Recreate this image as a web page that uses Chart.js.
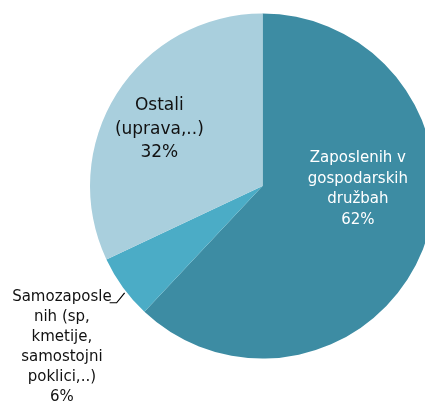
<!DOCTYPE html>
<html>
<head>
<meta charset="utf-8">
<script src="https://cdn.jsdelivr.net/npm/chart.js@4"></script>
<style>
html,body{margin:0;padding:0;background:#fff;overflow:hidden;width:425px;height:405px;}
#wrap{position:absolute;left:0;top:0;width:440px;height:405px;}
</style>
</head>
<body>
<div id="wrap"><canvas id="c" width="440" height="405"></canvas></div>
<script>
const categories = ['Zaposlenih v gospodarskih družbah', 'Samozaposlenih (sp, kmetije, samostojni poklici,..)', 'Ostali (uprava,..)'];
const values = [62, 6, 32];
const percentLabels = ['62%', '6%', '32%'];
const labelLines = [
  ['Zaposlenih v', 'gospodarskih', 'družbah'],
  ['Samozaposle', 'nih (sp,', 'kmetije,', 'samostojni', 'poklici,..)'],
  ['Ostali', '(uprava,..)']
];
const colors = ['#3D8CA3', '#4BACC6', '#A9CFDD'];

// label placement relative to pie center, in units of radius
const labelStyle = [
  {dx: 0.553, dy: -0.16, lh: 20.5, size: 15, color: '#ffffff'},
  {dx: -1.163, dy: 0.645, lh: 20, size: 15, color: '#111111'},
  {dx: -0.598, dy: -0.465, lh: 23.5, size: 17, color: '#111111'}
];

const labelPlugin = {
  id: 'pieLabels',
  afterDatasetsDraw(chart) {
    const ctx = chart.ctx;
    const meta = chart.getDatasetMeta(0);
    const arc0 = meta.data[0];
    const cx = arc0.x, cy = arc0.y, r = arc0.outerRadius;
    ctx.save();
    ctx.textAlign = 'center';
    ctx.textBaseline = 'middle';
    labelLines.forEach((lines, i) => {
      const st = labelStyle[i];
      const all = lines.concat([percentLabels[i]]);
      const x = cx + st.dx * r;
      const y0 = cy + st.dy * r;
      ctx.fillStyle = st.color;
      ctx.font = st.size + 'px "DejaVu Sans", sans-serif';
      all.forEach((t, k) => ctx.fillText(t, x, y0 + k * st.lh));
      if (i === 1) {
        // leader line from label to its slice
        const w = ctx.measureText(lines[0]).width;
        const lx = x + w / 2 - 2;
        const ly = y0 + 5.5;
        ctx.strokeStyle = '#000';
        ctx.lineWidth = 1.2;
        ctx.beginPath();
        ctx.moveTo(lx, ly);
        ctx.lineTo(lx + 7, ly);
        ctx.lineTo(lx + 15, ly - 10);
        ctx.stroke();
      }
    });
    ctx.restore();
  }
};

new Chart(document.getElementById('c'), {
  type: 'pie',
  data: {
    labels: categories,
    datasets: [{
      data: values,
      backgroundColor: colors,
      borderWidth: 0
    }]
  },
  options: {
    responsive: false,
    animation: false,
    layout: {padding: {left: 90, top: 13.5, right: 5, bottom: 46.5}},
    plugins: {legend: {display: false}, tooltip: {enabled: false}}
  },
  plugins: [labelPlugin]
});
</script>
</body>
</html>
